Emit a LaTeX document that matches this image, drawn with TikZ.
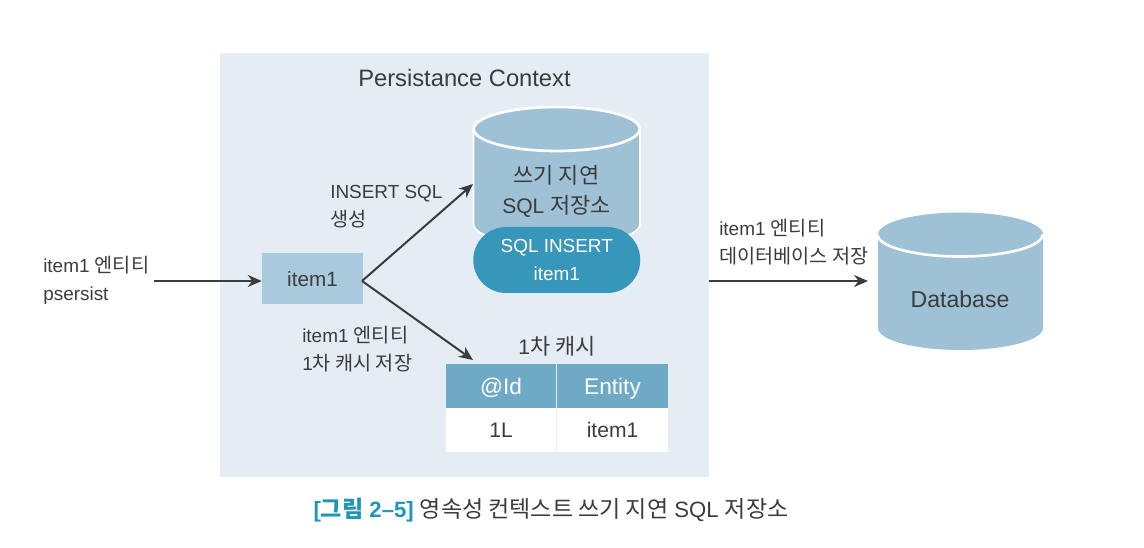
\documentclass[tikz,border=0pt]{standalone}
\usepackage{fontspec}
\setmainfont{Liberation Sans}
\newfontfamily\kr{Noto Sans CJK KR}[Scale=1.04]
\newcommand{\K}[1]{{\kr #1}}
\usetikzlibrary{arrows.meta,shapes.geometric}
\definecolor{panelc}{HTML}{E4ECF4}
\definecolor{cylc}{HTML}{9FC1D6}
\definecolor{itemc}{HTML}{A9CADD}
\definecolor{pillc}{HTML}{3797BA}
\definecolor{headc}{HTML}{6EA9C6}
\definecolor{inkc}{HTML}{3C3C3C}
\definecolor{capc}{HTML}{1E96B8}
\tikzset{
 lbl/.style={text=inkc,font=\fontsize{14.2}{21}\selectfont,align=left,inner sep=0pt},
 ctr/.style={text=inkc,font=\fontsize{15.8}{22.5}\selectfont,align=center,inner sep=0pt},
 conn/.style={draw=inkc,line width=1.5pt,-{Stealth[length=10.5pt,width=9pt]}},
 headcell/.style={fill=headc,minimum height=32.25pt,inner sep=0pt,text=white,text height=14.5pt,text depth=1.5pt,font=\fontsize{17}{20}\selectfont},
 bodycell/.style={fill=white,minimum height=33pt,inner sep=0pt,text=inkc,font=\fontsize{15.8}{20}\selectfont},
 lid/.style={fill=cylc,draw=white,line width=2pt,ellipse,minimum width=124.5pt,minimum height=33pt,inner sep=0pt},
 barrel/.style={white,line width=1.2pt,fill=cylc},
}
\begin{document}
\begin{tikzpicture}[x=0.75pt,y=-0.75pt]
\useasboundingbox (0,0) rectangle (1144,548);
\fill[white] (0,0) rectangle (1144,548);
\node[fill=panelc,minimum width=366.75pt,minimum height=318pt,inner sep=0pt,anchor=north west] (panel) at (220,53) {};
\node[ctr,font=\fontsize{17.8}{20}\selectfont] (pc) at (464.5,78) {Persistance Context};
% buffer cylinder
\draw[barrel] (473.5,129) -- (473.5,224) arc[start angle=180,end angle=0,x radius=83.25,y radius=22] -- (640,129) -- cycle;
\node[lid] (buf) at (556.75,129) {};
\node[ctr] (buftext) at (556.5,191) {\K{쓰기 지연}\\SQL \K{저장소}};
\node[fill=pillc,rounded corners=24.7pt,minimum width=125.25pt,minimum height=49.5pt,inner sep=0pt,text=white,align=center,font=\fontsize{14.2}{21}\selectfont] (pill) at (556.75,260) {SQL INSERT\\item1};
% item
\node[fill=itemc,minimum width=75.75pt,minimum height=38.25pt,inner sep=0pt,text=inkc,font=\fontsize{15.5}{20}\selectfont] (item) at (312.5,279) {item1};
% table
\node[ctr] (cachet) at (557,346) {1\K{차 캐시}};
\node[headcell,minimum width=82.5pt] (h1) at (501,386) {@Id};
\node[headcell,minimum width=83.25pt] (h2) at (612.5,386) {Entity};
\node[bodycell,minimum width=82.5pt] (c1) at (501,430) {1L};
\node[bodycell,minimum width=83.25pt] (c2) at (612.5,430) {item1};
% database
\fill[cylc] (878,234.5) -- (878,328) arc[start angle=180,end angle=0,x radius=82.5,y radius=22] -- (1043,234.5) arc[start angle=0,end angle=-180,x radius=82.5,y radius=22] -- cycle;
\node[inner sep=0pt,minimum width=124pt,minimum height=33pt,ellipse] (db) at (960.5,234.5) {};
\draw[white,line width=2pt] (db.west) arc[start angle=180,end angle=0,x radius=82.5,y radius=22];
\node[ctr,font=\fontsize{17.3}{20}\selectfont] (dbtext) at (960,299) {Database};
% labels
\node[lbl,anchor=west] (l1) at (43,280.5) {item1 \K{엔티티}\\psersist};
\node[lbl,anchor=west] (l2) at (330,207) {INSERT SQL\\\K{생성}};
\node[lbl,anchor=west] (l3) at (302,349) {item1 \K{엔티티}\\1\K{차 캐시 저장}};
\node[lbl,anchor=west] (l4) at (719,242) {item1 \K{엔티티}\\\K{데이터베이스 저장}};
\coordinate (in) at (154,281);
\coordinate (out) at (709,281);
\coordinate (dbin) at (868,281);
\coordinate (itemr) at (362,281);
\coordinate (bufin) at (473,184);
\coordinate (cachein) at (473,360);
\draw[conn] (in) -- (item.west |- in);
\draw[conn] (itemr) -- (bufin);
\draw[conn] (itemr) -- (cachein);
\draw[conn] (out) -- (dbin);
\node[inner sep=0pt,font=\fontsize{16.6}{20}\selectfont] (cap) at (551,510) {\textcolor{capc}{\textbf{[\K{그림} 2–5]}} \textcolor{inkc}{\K{영속성 컨텍스트 쓰기 지연} SQL \K{저장소}}};
\end{tikzpicture}
\end{document}
